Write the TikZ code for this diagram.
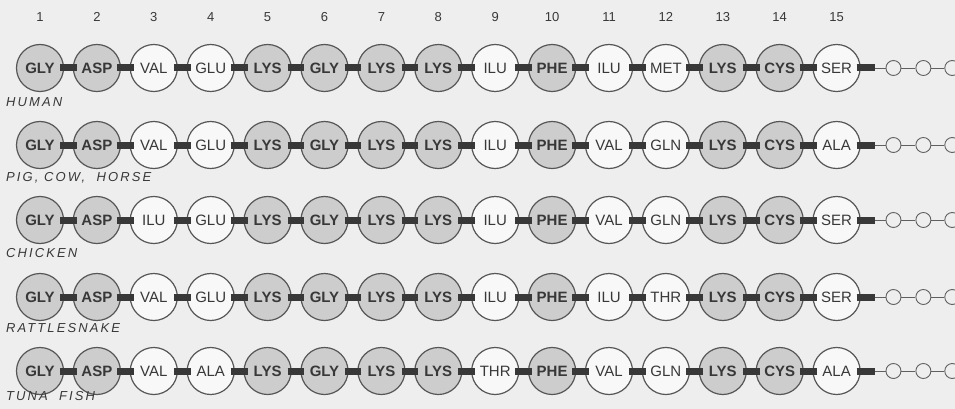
\documentclass[tikz,border=0pt]{standalone}
\usepackage{fontspec}
\setmainfont{Liberation Sans}
\usetikzlibrary{positioning}

\definecolor{paper}{HTML}{EEEEEE}
\definecolor{stipple}{HTML}{CDCDCD}
\definecolor{ink}{HTML}{383838}

% which positions are printed shaded
\def\shadedcols{{1,1,0,0,1,1,1,1,0,1,0,0,1,1,0}}

\tikzset{
  resnode/.style={circle,draw=ink!85,line width=1.2pt,minimum size=47pt,inner sep=0pt,text=ink},
  res0/.style={resnode,fill=paper!40!white,font=\fontsize{15}{15}\selectfont},
  res1/.style={resnode,fill=stipple,font=\fontsize{15}{15}\selectfont\bfseries},
  bond/.style={draw=ink,line width=7pt,shorten <=-4pt,shorten >=-4pt},
  posnum/.style={font=\fontsize{13}{13}\selectfont,text=ink},
  species/.style={anchor=west,inner sep=0pt,text=ink,
    font=\fontsize{13}{13}\selectfont\itshape\addfontfeatures{LetterSpace=16}},
  tailres/.style={circle,draw=ink!80,line width=0.9pt,minimum size=15pt,inner sep=0pt},
  tailline/.style={draw=ink!80,line width=0.9pt}
}

\begin{document}
\begin{tikzpicture}[x=1pt,y=-1pt]
  \fill[paper] (0,0) rectangle (955,409);
  \useasboundingbox (0,0) rectangle (955,409);

  % position numbers
  \foreach \i in {1,...,15}
    \node[posnum] (n\i) at ({40+56.9*(\i-1)},17) {\i};

  \foreach \row/\y/\ly/\species/\chainseq in {
      1/68/102/HUMAN/{GLY,ASP,VAL,GLU,LYS,GLY,LYS,LYS,ILU,PHE,ILU,MET,LYS,CYS,SER},
      2/145/178/{PIG, COW,\ \ HORSE}/{GLY,ASP,VAL,GLU,LYS,GLY,LYS,LYS,ILU,PHE,VAL,GLN,LYS,CYS,ALA},
      3/220/253/CHICKEN/{GLY,ASP,ILU,GLU,LYS,GLY,LYS,LYS,ILU,PHE,VAL,GLN,LYS,CYS,SER},
      4/297/328/RATTLESNAKE/{GLY,ASP,VAL,GLU,LYS,GLY,LYS,LYS,ILU,PHE,ILU,THR,LYS,CYS,SER},
      5/371/396/{TUNA\ \ FISH}/{GLY,ASP,VAL,ALA,LYS,GLY,LYS,LYS,THR,PHE,VAL,GLN,LYS,CYS,ALA}}{
    \foreach \resname [count=\i] in \chainseq {
      \pgfmathtruncatemacro\k{\shadedcols[\i-1]}
      \node[res\k] (r\row-\i) at ({40+56.9*(\i-1)},\y) {\resname};
    }
    \foreach \i in {1,...,14} {
      \pgfmathtruncatemacro\j{\i+1}
      \draw[bond] (r\row-\i) -- (r\row-\j);
    }
    \node[species] (sp\row) at (6,\ly) {\species};
    % chain goes on past the right edge
    \coordinate (t\row) at (871,\y);
    \node[tailres,right=14.5pt of t\row] (u\row-1) {};
    \node[tailres,right=14pt of u\row-1] (u\row-2) {};
    \node[tailres,right=13pt of u\row-2] (u\row-3) {};
    \coordinate[right=10pt of u\row-3] (e\row);
    \draw[tailline] (t\row) -- (u\row-1) -- (u\row-2) -- (u\row-3) -- (e\row);
    \draw[bond,shorten >=0pt] (r\row-15) -- ([xshift=4pt]t\row);
  }
\end{tikzpicture}
\end{document}
